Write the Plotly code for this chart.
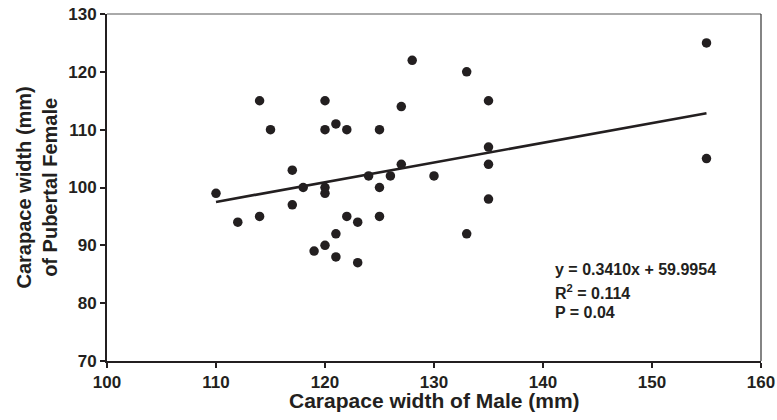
import plotly.graph_objects as go

male_cw = [110, 112, 114, 114, 115, 117, 117, 118, 119, 120, 120, 120, 120, 120,
           121, 121, 121, 122, 122, 123, 123, 124, 125, 125, 125, 126, 127, 127,
           128, 130, 133, 133, 135, 135, 135, 135, 155, 155]
female_cw = [99, 94, 115, 95, 110, 103, 97, 100, 89, 115, 110, 100, 99, 90,
             111, 92, 88, 110, 95, 94, 87, 102, 110, 100, 95, 102, 114, 104,
             122, 102, 120, 92, 115, 107, 104, 98, 125, 105]

slope = 0.3410
intercept = 59.9954
stats_lines = ["y = 0.3410x + 59.9954", "R<sup>2</sup> = 0.114", "P = 0.04"]

x_ticks = [100, 110, 120, 130, 140, 150, 160]
y_ticks = [70, 80, 90, 100, 110, 120, 130]

ink = "#231f20"
font_family = "Liberation Sans, Arial, sans-serif"

fit_x = [min(male_cw), max(male_cw)]
fit_y = [slope * v + intercept for v in fit_x]

fig = go.Figure()
fig.add_trace(go.Scatter(x=fit_x, y=fit_y, mode="lines",
                         line=dict(color=ink, width=2.6), showlegend=False))
fig.add_trace(go.Scatter(x=male_cw, y=female_cw, mode="markers",
                         marker=dict(color=ink, size=9.5), showlegend=False))

axis_common = dict(showgrid=False, zeroline=False, showline=True, linecolor=ink,
                   linewidth=2, ticks="outside", ticklen=5, tickwidth=1.5,
                   tickcolor=ink, automargin=False,
                   tickfont=dict(family=font_family, size=17, color=ink, weight="bold"))

fig.update_xaxes(range=[100, 160], tickvals=x_ticks, **axis_common)
fig.update_yaxes(range=[70, 130], tickvals=y_ticks, **axis_common)

# thin top and right frame
fig.add_shape(type="line", xref="paper", yref="paper", x0=0, x1=1, y0=1, y1=1,
              line=dict(color="#555555", width=1))
fig.add_shape(type="line", xref="paper", yref="paper", x0=1, x1=1, y0=0, y1=1,
              line=dict(color="#333333", width=1.2))

fig.add_annotation(text="Carapace width of Male (mm)", xref="paper", yref="paper",
                   x=0.5, y=0, yshift=-39, xanchor="center", yanchor="middle",
                   showarrow=False,
                   font=dict(family=font_family, size=21, color=ink, weight="bold"))
fig.add_annotation(text="Carapace width (mm)<br>of Pubertal Female", xref="paper",
                   yref="paper", x=0, y=0.5, xshift=-71, textangle=-90,
                   xanchor="center", yanchor="middle", showarrow=False,
                   font=dict(family=font_family, size=20, color=ink, weight="bold"))

stat_font = dict(family=font_family, size=16, color=ink, weight="bold")
for txt, yp in zip(stats_lines, [0.265, 0.200, 0.140]):
    fig.add_annotation(text=txt, xref="paper", yref="paper", x=0.6815, y=yp,
                       xanchor="left", yanchor="middle", showarrow=False,
                       font=stat_font)

fig.update_layout(width=777, height=420, plot_bgcolor="white", paper_bgcolor="white",
                  margin=dict(l=107, r=16, t=14, b=59, autoexpand=False))

fig.write_html("out.html", config={"displayModeBar": False},
               post_script="document.body.style.margin='0';document.body.style.overflow='hidden';")
